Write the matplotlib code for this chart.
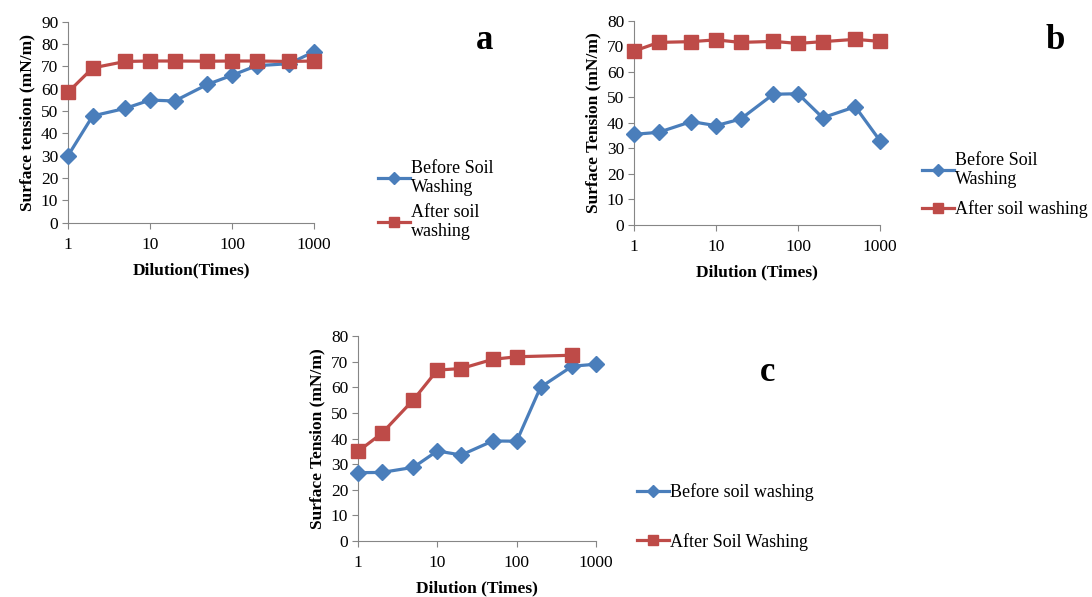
import numpy as np
import matplotlib.pyplot as plt

plt.rcParams['font.family'] = ['Liberation Serif', 'DejaVu Serif']

dilution = [1, 2, 5, 10, 20, 50, 100, 200, 500, 1000]

# panel a
a_before = [30, 47.8, 51.2, 54.9, 54.5, 61.9, 66, 70.3, 71.2, 76.6]
a_after = [58.4, 69.3, 72.2, 72.4, 72.4, 72.3, 72.4, 72.4, 72.2, 72.4]

# panel b
b_before = [35.5, 36.3, 40.5, 38.9, 41.5, 51.2, 51.4, 42, 46.3, 33]
b_after = [68.1, 71.5, 71.8, 72.5, 71.5, 71.9, 71.1, 71.8, 72.7, 71.9]

# panel c (no "after" reading at 200x)
c_before = [26.7, 26.8, 28.8, 35.2, 33.6, 39.1, 39, 60.1, 68.3, 69.1]
c_dil_after = [1, 2, 5, 10, 20, 50, 100, 500]
c_after = [35, 42.1, 55.2, 66.8, 67.4, 71, 72, 72.6]

blue = '#4A7EBB'
red = '#BE4B48'
grey = '#868686'

W, H = 1092, 597
fig = plt.figure(figsize=(W / 100, H / 100), dpi=100)


def box(left, right, top, bottom):
    return [left / W, 1 - bottom / H, (right - left) / W, (bottom - top) / H]


def panel(rect, xb, yb, xa, ya, ymax, ylab, xlab, labels, leg_xy, spacing, letter, letter_xy):
    ax = fig.add_axes(rect)
    l1, = ax.plot(xb, yb, color=blue, lw=2.3, marker='D', ms=8, clip_on=False, zorder=3)
    l2, = ax.plot(xa, ya, color=red, lw=2.3, marker='s', ms=9.5, clip_on=False, zorder=3)
    ax.set_xscale('log')
    ax.set_xlim(1, 1000)
    ax.set_ylim(0, ymax)
    ax.set_xticks([1, 10, 100, 1000])
    ax.set_xticklabels(['1', '10', '100', '1000'])
    ax.minorticks_off()
    ax.set_yticks(np.arange(0, ymax + 1, 10))
    for s in ['top', 'right']:
        ax.spines[s].set_visible(False)
    for s in ['left', 'bottom']:
        ax.spines[s].set_color(grey)
    ax.tick_params(direction='out', length=4, color=grey, labelsize=12.5, pad=3)
    ax.tick_params(axis='x', pad=6)
    ax.set_ylabel(ylab, fontsize=12.5, fontweight='bold', labelpad=4)
    ax.set_xlabel(xlab, fontsize=12.5, fontweight='bold', labelpad=7)
    fig.legend([l1, l2], labels, loc='center left',
               bbox_to_anchor=(leg_xy[0] / W, 1 - leg_xy[1] / H),
               frameon=False, fontsize=13, handlelength=1.75, handletextpad=0.1,
               labelspacing=spacing, borderpad=0, borderaxespad=0, markerscale=0.75)
    fig.text(letter_xy[0] / W, 1 - letter_xy[1] / H, letter, fontsize=25,
             fontweight='bold', ha='center', va='baseline')
    return ax


panel(box(68, 314, 21.7, 222.7), dilution, a_before, dilution, a_after, 90,
      'Surface tension (mN/m)', 'Dilution(Times)',
      ['Before Soil\nWashing', 'After soil\nwashing'], (378, 200), 0.4, 'a', (485, 49))

panel(box(634, 880, 20.7, 225), dilution, b_before, dilution, b_after, 80,
      'Surface Tension (mN/m)', 'Dilution (Times)',
      ['Before Soil\nWashing', 'After soil washing'], (922, 185), 0.65, 'b', (1055, 49))

panel(box(358, 596, 336.3, 541), dilution, c_before, c_dil_after, c_after, 80,
      'Surface Tension (mN/m)', 'Dilution (Times)',
      ['Before soil washing', 'After Soil Washing'], (637, 517), 1.75, 'c', (768, 381))

fig.savefig('out.png', dpi=100)
